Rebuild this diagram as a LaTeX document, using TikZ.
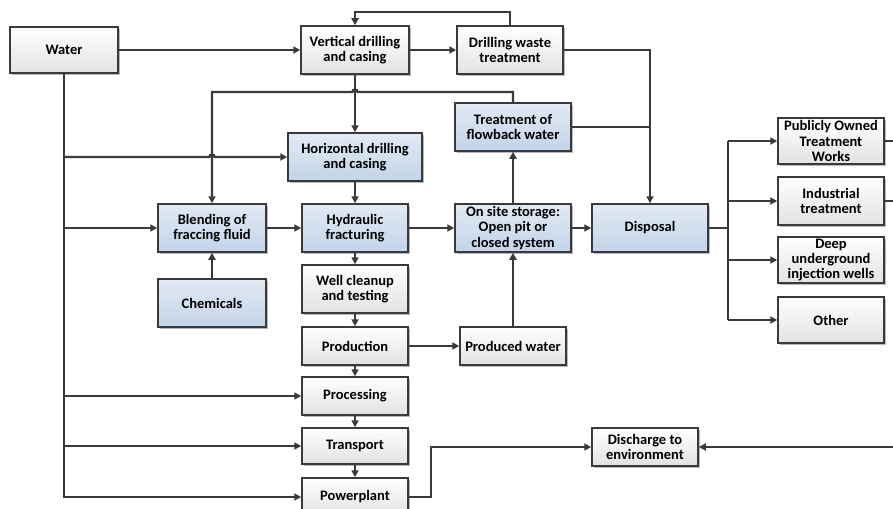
\documentclass[tikz,border=0pt]{standalone}
\usepackage{fontspec}
\setmainfont{Carlito}
\usetikzlibrary{arrows.meta,shadows,calc}
\definecolor{linec}{HTML}{3A3A3A}
\definecolor{bluetop}{HTML}{E2EAF4}
\definecolor{bluebot}{HTML}{C2D4E8}
\definecolor{greybot}{HTML}{E2E2E2}
\tikzset{
  basebox/.style={draw=linec,line width=1.5pt,align=center,inner sep=1pt,
    font=\fontsize{14.5}{15.3}\selectfont\bfseries,text=black,
    drop shadow={shadow xshift=1.6pt,shadow yshift=-1.6pt,fill=black,opacity=0.28}},
  wbox/.style={basebox,top color=white,bottom color=greybot},
  bbox/.style={basebox,top color=bluetop,bottom color=bluebot},
  sz/.style 2 args={minimum width=#1pt,minimum height=#2pt},
  conn/.style={draw=linec,line width=2.4pt},
  arr/.style={conn,-{Triangle[length=7pt,width=7pt]}},
}
\begin{document}
\begin{tikzpicture}[x=1pt,y=-1pt]
\useasboundingbox (0,0) rectangle (893,508);
% nodes
\node[wbox,sz={108}{46}] (water) at (64,50) {Water};
\node[wbox,sz={108}{48}] (vert) at (355,50) {Vertical drilling\\and casing};
\node[wbox,sz={106}{48}] (dwt) at (510,50) {Drilling waste\\treatment};
\node[bbox,sz={116}{48}] (tfw) at (513,127) {Treatment of\\flowback water};
\node[bbox,sz={134}{48}] (hor) at (355,157) {Horizontal drilling\\and casing};
\node[bbox,sz={108}{48}] (blend) at (212,228) {Blending of\\fraccing fluid};
\node[bbox,sz={106}{48}] (hyd) at (355,228) {Hydraulic\\fracturing};
\node[bbox,sz={108}{48}] (chem) at (212,303) {Chemicals};
\node[wbox,sz={106}{48}] (well) at (355,289) {Well cleanup\\and testing};
\node[wbox,sz={106}{38}] (prod) at (355,346) {Production};
\node[wbox,sz={106}{38}] (pw) at (513,346) {Produced water};
\node[wbox,sz={106}{38}] (proc) at (355,396) {Processing};
\node[wbox,sz={106}{36}] (trans) at (355,446) {Transport};
\node[wbox,sz={106}{38}] (power) at (355,497) {Powerplant};
\node[bbox,sz={116}{48}] (store) at (513,228) {On site storage:\\Open pit or\\closed system};
\node[bbox,sz={116}{48}] (disp) at (650,228) {Disposal};
\node[wbox,sz={106}{46}] (potw) at (831,141) {Publicly Owned\\Treatment\\Works};
\node[wbox,sz={106}{48}] (ind) at (831,201) {Industrial\\treatment};
\node[wbox,sz={106}{46}] (deep) at (831,260) {Deep\\underground\\injection wells};
\node[wbox,sz={106}{46}] (other) at (831,320) {Other};
\node[wbox,sz={106}{38}] (disch) at (645,447) {Discharge to\\environment};
% helper coordinates
\coordinate (br) at (728,228);
\coordinate (eR) at (893,447);
\coordinate (eP) at (893,141);
\coordinate (eI) at (893,201);
% connectors
\draw[arr] (water.east) -- (vert.west);
\draw[arr] (vert.east) -- (dwt.west);
\draw[arr] (dwt.north) -- ++(0,-13) -| (vert.north);
\draw[arr] (dwt.east) -| (disp.north);
\draw[conn] (tfw.east) -- (tfw.east -| disp.north);
\draw[arr] (tfw.north) |- (357.5,92) arc[start angle=0,end angle=-180,radius=2.5] -- (212,92) -- (blend.north);
\draw[arr] (vert.south) -- (hor.north);
\draw[arr] (water.south) |- (power.west);
\draw[arr] (water.south |- hor.west) -- (209.5,157) arc[start angle=180,end angle=360,radius=2.5] -- (hor.west);
\draw[arr] (water.south |- blend.west) -- (blend.west);
\draw[arr] (water.south |- proc.west) -- (proc.west);
\draw[arr] (water.south |- trans.west) -- (trans.west);
\draw[arr] (blend.east) -- (hyd.west);
\draw[arr] (chem.north) -- (blend.south);
\draw[arr] (hor.south) -- (hyd.north);
\draw[arr] (hyd.east) -- (store.west);
\draw[arr] (hyd.south) -- (well.north);
\draw[arr] (well.south) -- (prod.north);
\draw[arr] (prod.south) -- (proc.north);
\draw[arr] (proc.south) -- (trans.north);
\draw[arr] (trans.south) -- (power.north);
\draw[arr] (prod.east) -- (pw.west);
\draw[arr] (pw.north) -- (store.south);
\draw[arr] (store.north) -- (tfw.south);
\draw[arr] (store.east) -- (disp.west);
\draw[arr] (power.east) -- ++(22,0) |- (disch.west);
\draw[arr] (eR) -- (disch.east);
\draw[conn] (potw.east) -- (eP);
\draw[conn] (ind.east) -- (eI);
\draw[conn] (disp.east) -- (br);
\draw[conn] (br |- potw.west) -- (br |- other.west);
\draw[arr] (br |- potw.west) -- (potw.west);
\draw[arr] (br |- ind.west) -- (ind.west);
\draw[arr] (br |- deep.west) -- (deep.west);
\draw[arr] (br |- other.west) -- (other.west);
\end{tikzpicture}
\end{document}
